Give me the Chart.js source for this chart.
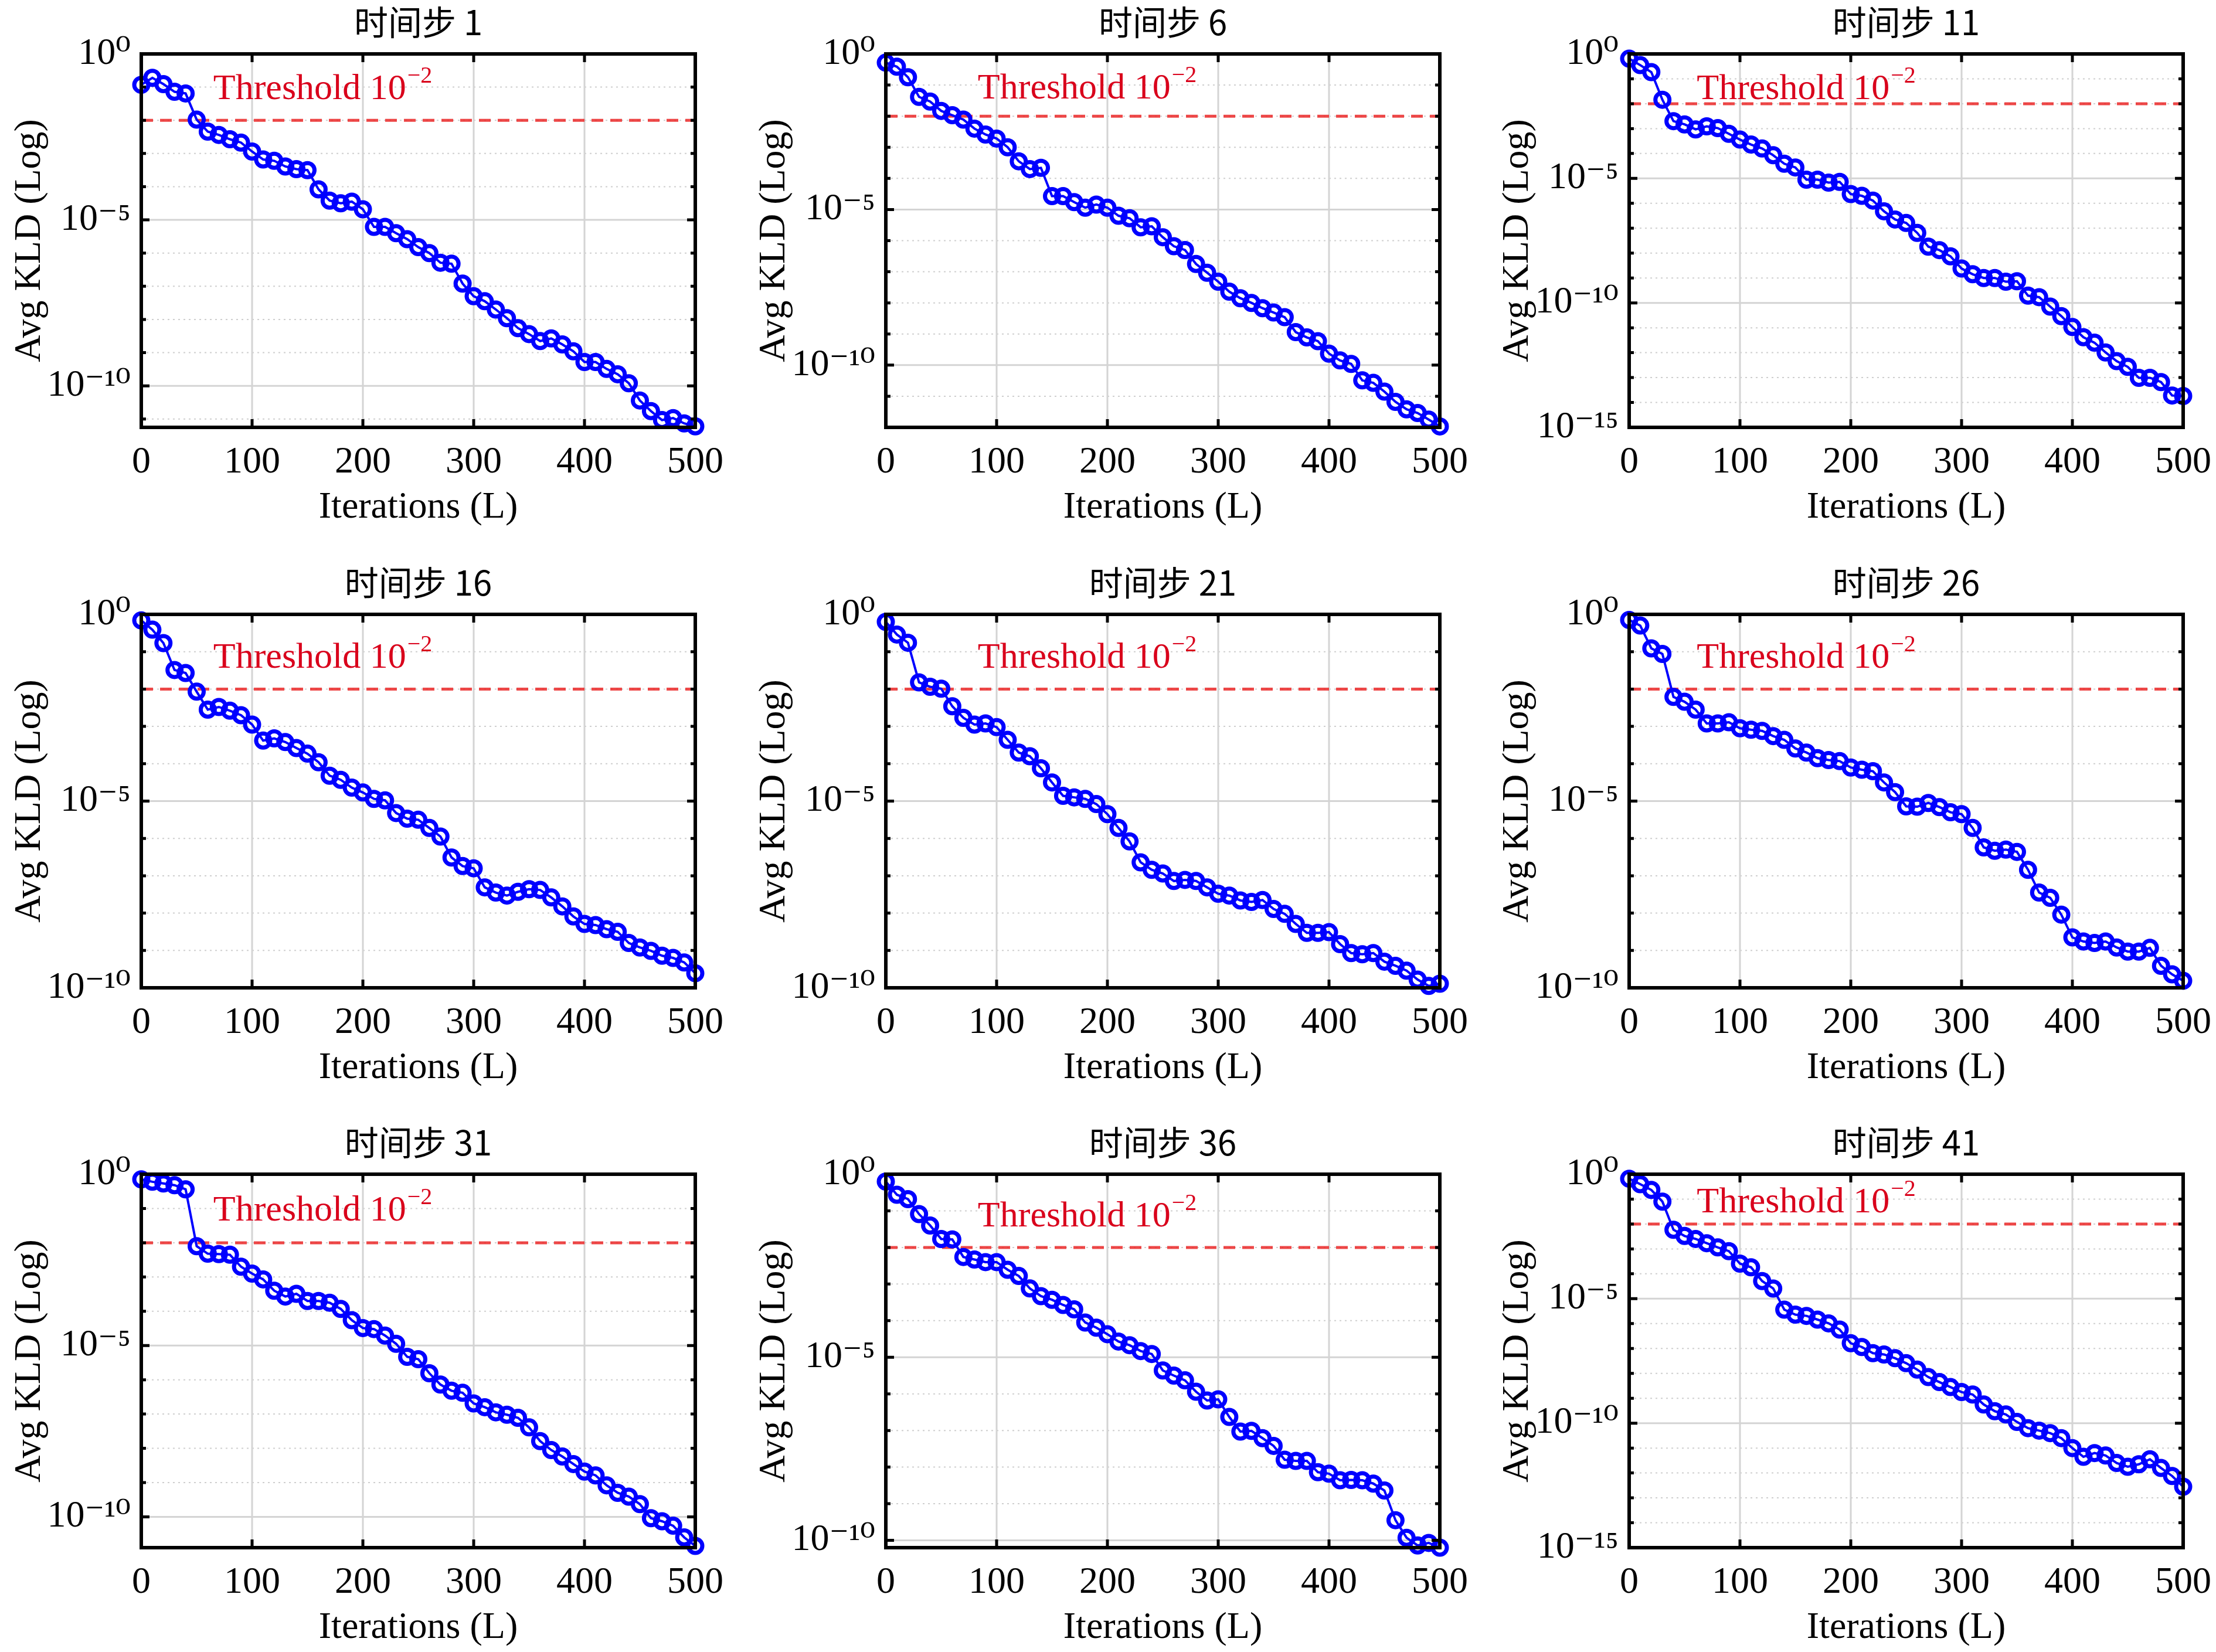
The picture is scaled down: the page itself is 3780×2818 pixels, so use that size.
<!DOCTYPE html>
<html>
<head>
<meta charset="utf-8">
<script src="https://cdn.jsdelivr.net/npm/chart.js@4.4.0/dist/chart.umd.min.js"></script>
<style>
  body { margin: 0; background: #fff; }
  #wrap { position: relative; width: 3780px; height: 2818px; background: #fff; overflow: hidden; }
  canvas { position: absolute; }
</style>
</head>
<body>
<div id="wrap"></div>
<script>
// iterations 0..500, step 10
const iterations = [];
for (let i = 0; i <= 500; i += 10) iterations.push(i);

const panelTitles = ["时间步 1", "时间步 6", "时间步 11", "时间步 16", "时间步 21", "时间步 26", "时间步 31", "时间步 36", "时间步 41"];
const threshold = 1e-2;
const xTicks = [0, 100, 200, 300, 400, 500];

// Avg KLD per panel, stored as log10 exponents
const kld1 = [-0.93,-0.72,-0.91,-1.14,-1.19,-1.98,-2.34,-2.44,-2.57,-2.67,-2.94,-3.18,-3.22,-3.39,-3.47,-3.5,-4.08,-4.42,-4.5,-4.45,-4.68,-5.21,-5.21,-5.4,-5.58,-5.82,-6.0,-6.29,-6.32,-6.92,-7.3,-7.45,-7.7,-7.96,-8.26,-8.44,-8.65,-8.57,-8.75,-8.96,-9.28,-9.28,-9.49,-9.65,-9.92,-10.44,-10.76,-11.03,-10.97,-11.13,-11.22];
const kld6 = [-0.28,-0.41,-0.75,-1.38,-1.53,-1.83,-1.97,-2.11,-2.4,-2.59,-2.72,-3.0,-3.45,-3.7,-3.66,-4.57,-4.57,-4.76,-4.94,-4.84,-4.94,-5.2,-5.28,-5.57,-5.54,-5.89,-6.18,-6.3,-6.75,-7.03,-7.32,-7.64,-7.85,-8.0,-8.17,-8.31,-8.46,-8.94,-9.11,-9.23,-9.63,-9.85,-9.96,-10.49,-10.57,-10.85,-11.18,-11.42,-11.54,-11.75,-11.97];
const kld11 = [-0.19,-0.45,-0.73,-1.84,-2.7,-2.83,-3.03,-2.91,-2.98,-3.21,-3.44,-3.64,-3.8,-4.07,-4.41,-4.56,-5.05,-5.05,-5.17,-5.14,-5.63,-5.7,-5.89,-6.32,-6.65,-6.79,-7.19,-7.74,-7.88,-8.13,-8.62,-8.85,-9.0,-9.0,-9.15,-9.13,-9.71,-9.77,-10.15,-10.53,-10.97,-11.38,-11.6,-11.99,-12.34,-12.57,-13.01,-13.01,-13.18,-13.72,-13.74];
const kld16 = [-0.16,-0.41,-0.77,-1.49,-1.57,-2.07,-2.55,-2.48,-2.58,-2.7,-2.95,-3.38,-3.32,-3.42,-3.58,-3.73,-3.96,-4.32,-4.43,-4.64,-4.77,-4.94,-4.98,-5.32,-5.47,-5.5,-5.72,-5.95,-6.51,-6.74,-6.8,-7.31,-7.45,-7.53,-7.43,-7.36,-7.38,-7.58,-7.82,-8.09,-8.29,-8.32,-8.43,-8.5,-8.8,-8.92,-9.01,-9.14,-9.2,-9.32,-9.61];
const kld21 = [-0.2,-0.54,-0.76,-1.82,-1.94,-1.99,-2.46,-2.77,-2.95,-2.92,-3.02,-3.36,-3.7,-3.8,-4.12,-4.5,-4.86,-4.9,-4.94,-5.08,-5.35,-5.72,-6.08,-6.64,-6.84,-6.94,-7.14,-7.11,-7.14,-7.31,-7.48,-7.53,-7.66,-7.7,-7.65,-7.89,-8.02,-8.29,-8.53,-8.53,-8.51,-8.83,-9.07,-9.1,-9.07,-9.3,-9.41,-9.54,-9.78,-9.95,-9.89];
const kld26 = [-0.15,-0.3,-0.91,-1.06,-2.21,-2.34,-2.55,-2.92,-2.92,-2.89,-3.05,-3.09,-3.12,-3.26,-3.36,-3.59,-3.7,-3.85,-3.9,-3.93,-4.1,-4.16,-4.2,-4.5,-4.76,-5.14,-5.15,-5.05,-5.16,-5.3,-5.35,-5.72,-6.24,-6.33,-6.3,-6.36,-6.84,-7.45,-7.59,-8.04,-8.65,-8.76,-8.8,-8.76,-8.92,-9.03,-9.03,-8.93,-9.41,-9.64,-9.81];
const kld31 = [-0.15,-0.22,-0.27,-0.32,-0.44,-2.1,-2.32,-2.33,-2.35,-2.7,-2.9,-3.07,-3.4,-3.57,-3.49,-3.7,-3.7,-3.75,-3.93,-4.26,-4.49,-4.52,-4.71,-4.95,-5.33,-5.4,-5.81,-6.14,-6.32,-6.38,-6.69,-6.8,-6.95,-7.02,-7.11,-7.39,-7.79,-8.05,-8.24,-8.46,-8.68,-8.79,-9.08,-9.3,-9.41,-9.63,-10.04,-10.13,-10.26,-10.6,-10.85];
const kld36 = [-0.2,-0.56,-0.68,-1.09,-1.4,-1.77,-1.78,-2.26,-2.33,-2.4,-2.4,-2.61,-2.78,-3.12,-3.33,-3.43,-3.57,-3.69,-4.05,-4.19,-4.37,-4.57,-4.67,-4.83,-4.91,-5.36,-5.5,-5.63,-5.94,-6.18,-6.15,-6.63,-7.03,-7.01,-7.21,-7.42,-7.8,-7.83,-7.83,-8.14,-8.18,-8.36,-8.35,-8.36,-8.45,-8.64,-9.45,-9.93,-10.14,-10.07,-10.2];
const kld41 = [-0.18,-0.4,-0.63,-1.1,-2.23,-2.48,-2.6,-2.77,-2.94,-3.09,-3.59,-3.74,-4.29,-4.59,-5.44,-5.64,-5.69,-5.84,-5.99,-6.24,-6.79,-6.94,-7.19,-7.24,-7.39,-7.59,-7.85,-8.15,-8.35,-8.55,-8.75,-8.85,-9.25,-9.52,-9.65,-9.95,-10.2,-10.3,-10.4,-10.6,-11.0,-11.35,-11.2,-11.3,-11.6,-11.75,-11.65,-11.45,-11.8,-12.12,-12.55];
const panelSeries = [kld1, kld6, kld11, kld16, kld21, kld26, kld31, kld36, kld41];

// axis lower limits (log10) and labelled decades
const yMinExp = [-11.25, -12, -15, -10, -10, -10, -10.9, -10.2, -15];
const yLabelExps = [[0,-5,-10],[0,-5,-10],[0,-5,-10,-15],[0,-5,-10],[0,-5,-10],[0,-5,-10],[0,-5,-10],[0,-5,-10],[0,-5,-10,-15]];

// layout (pixels)
const colLeft = [241, 1511, 2779];
const rowTop = [92, 1048, 2003];
const plotW = 947, plotH = 637;
const padL = 232, padT = 110, padR = 60, padB = 180;
const labelX = [65, 83, 61];           // threshold label start (iteration units) per column
const labelLift = [36, 30, 8, 36, 36, 36, 38, 36, 20];

const SERIF = "'Liberation Serif', 'DejaVu Serif', serif";
const sup = { "0": "⁰", "1": "¹", "2": "²", "3": "³", "4": "⁴", "5": "⁵", "6": "⁶", "7": "⁷", "8": "⁸", "9": "⁹", "-": "⁻" };
function powLabel(e) { return "10" + String(e).split("").map(c => sup[c]).join(""); }

const framePlugin = {
    id: "frame",
    beforeDatasetsDraw(chart, args, opts) {
        const { ctx, chartArea: a, scales: { x, y } } = chart;
        ctx.save();
        for (let k = 0; k >= Math.ceil(opts.minExp); k--) {
            const py = y.getPixelForValue(Math.pow(10, k));
            ctx.beginPath();
            if (k % 5 === 0) { ctx.setLineDash([]); ctx.strokeStyle = "#d4d4d4"; ctx.lineWidth = 3; }
            else { ctx.setLineDash([3, 6]); ctx.strokeStyle = "#cfcfcf"; ctx.lineWidth = 2; }
            ctx.moveTo(a.left, py); ctx.lineTo(a.right, py); ctx.stroke();
        }
        ctx.setLineDash([]); ctx.strokeStyle = "#d4d4d4"; ctx.lineWidth = 3;
        xTicks.forEach(v => {
            const px = x.getPixelForValue(v);
            ctx.beginPath(); ctx.moveTo(px, a.top); ctx.lineTo(px, a.bottom); ctx.stroke();
        });
        ctx.restore();
    },
    afterDatasetsDraw(chart, args, opts) {
        const { ctx, chartArea: a, scales: { x, y } } = chart;
        ctx.save();
        ctx.strokeStyle = "#000"; ctx.lineWidth = 6;
        ctx.strokeRect(a.left, a.top, a.right - a.left, a.bottom - a.top);
        ctx.lineWidth = 5;
        for (let k = 0; k >= Math.ceil(opts.minExp); k--) {
            const py = y.getPixelForValue(Math.pow(10, k));
            const len = k % 5 === 0 ? 14 : 8;
            ctx.beginPath();
            ctx.moveTo(a.left, py); ctx.lineTo(a.left + len, py);
            ctx.moveTo(a.right, py); ctx.lineTo(a.right - len, py);
            ctx.stroke();
        }
        xTicks.forEach(v => {
            const px = x.getPixelForValue(v);
            ctx.beginPath();
            ctx.moveTo(px, a.bottom); ctx.lineTo(px, a.bottom - 14);
            ctx.moveTo(px, a.top); ctx.lineTo(px, a.top + 14);
            ctx.stroke();
        });
        // threshold label
        const tx = x.getPixelForValue(opts.labelX);
        const ty = y.getPixelForValue(threshold) - opts.lift;
        ctx.fillStyle = "#d9001b";
        ctx.textBaseline = "alphabetic";
        ctx.font = "62px " + SERIF;
        ctx.fillText("Threshold 10", tx, ty);
        const w = ctx.measureText("Threshold 10").width;
        ctx.font = "40px " + SERIF;
        ctx.fillText("−2", tx + w + 2, ty - 28);
        // title
        ctx.fillStyle = "#000";
        ctx.textAlign = "center";
        ctx.font = "58px 'Noto Sans CJK SC', " + SERIF;
        ctx.fillText(opts.title, (a.left + a.right) / 2, a.top - 32);
        ctx.restore();
    }
};

const wrap = document.getElementById("wrap");
panelSeries.forEach((series, i) => {
    const col = i % 3, row = Math.floor(i / 3);
    const cv = document.createElement("canvas");
    const W = plotW + padL + padR, H = plotH + padT + padB;
    cv.width = W; cv.height = H;
    cv.style.left = (colLeft[col] - padL) + "px";
    cv.style.top = (rowTop[row] - padT) + "px";
    cv.style.width = W + "px"; cv.style.height = H + "px";
    wrap.appendChild(cv);

    const pts = iterations.map((it, j) => ({ x: it, y: Math.pow(10, series[j]) }));
    const labels = yLabelExps[i];

    new Chart(cv.getContext("2d"), {
        type: "line",
        data: {
            datasets: [{
                data: pts,
                borderColor: "#0000ff",
                borderWidth: 4,
                pointRadius: 12,
                pointBorderWidth: 7,
                pointBackgroundColor: "rgba(255,255,255,0)",
                pointBorderColor: "#0000ff",
                tension: 0,
                clip: false
            }, {
                data: [{ x: 0, y: threshold }, { x: 500, y: threshold }],
                borderColor: "rgba(235,40,40,0.85)",
                borderWidth: 5,
                borderDash: [20, 12],
                pointRadius: 0
            }]
        },
        options: {
            responsive: false,
            animation: false,
            devicePixelRatio: 1,
            layout: { padding: { top: padT, right: padR, left: 0, bottom: 0 } },
            plugins: {
                legend: { display: false },
                tooltip: { enabled: false },
                frame: { minExp: yMinExp[i], labelX: labelX[col], lift: labelLift[i], title: panelTitles[i] }
            },
            scales: {
                x: {
                    type: "linear", min: 0, max: 500,
                    grid: { display: false },
                    border: { display: false },
                    afterBuildTicks: s => { s.ticks = xTicks.map(v => ({ value: v })); },
                    afterFit: s => { s.height = padB; },
                    ticks: { color: "#000", font: { family: SERIF, size: 64 }, padding: 14, maxRotation: 0 },
                    title: { display: true, text: "Iterations (L)", color: "#000", font: { family: SERIF, size: 64 }, padding: { top: 8 } }
                },
                y: {
                    type: "logarithmic",
                    min: Math.pow(10, yMinExp[i]), max: 1,
                    grid: { display: false },
                    border: { display: false },
                    afterBuildTicks: s => { s.ticks = labels.map(e => ({ value: Math.pow(10, e) })); },
                    afterFit: s => { s.width = padL; },
                    ticks: {
                        color: "#000", font: { family: SERIF, size: 64 }, padding: 10,
                        callback: v => powLabel(Math.round(Math.log10(v)))
                    },
                    title: { display: true, text: "Avg KLD (Log)", color: "#000", font: { family: SERIF, size: 64 }, padding: { top: 4, bottom: 4 } }
                }
            }
        },
        plugins: [framePlugin]
    });
});
</script>
</body>
</html>
